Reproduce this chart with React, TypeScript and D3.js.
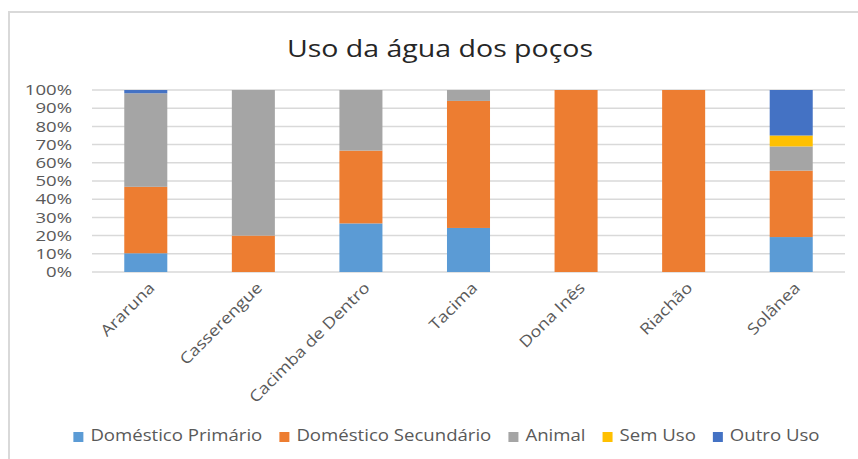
import React, { useEffect, useRef } from "react";
import * as d3 from "d3";

const categories = ["Araruna", "Casserengue", "Cacimba de Dentro", "Tacima", "Dona Inês", "Riachão", "Solânea"];
const seriesNames = ["Doméstico Primário", "Doméstico Secundário", "Animal", "Sem Uso", "Outro Uso"];
const domesticoPrimario = [10.3, 0, 26.7, 24.2, 0, 0, 19.2];
const domesticoSecundario = [36.5, 20, 40, 69.8, 100, 100, 36.5];
const animal = [51.4, 80, 33.3, 6, 0, 0, 13.3];
const semUso = [0, 0, 0, 0, 0, 0, 6.0];
const outroUso = [1.8, 0, 0, 0, 0, 0, 25.0];
const yTicks = [0, 10, 20, 30, 40, 50, 60, 70, 80, 90, 100];
const colors = ["#5B9BD5", "#ED7D31", "#A5A5A5", "#FFC000", "#4472C4"];
const title = "Uso da água dos poços";

const W = 858;
const H = 459;
const FONT = "'Open Sans', sans-serif";
const SX = 1.2;

export default function App() {
  const ref = useRef<SVGSVGElement>(null);

  useEffect(() => {
    const svg = d3.select(ref.current);
    svg.selectAll("*").remove();

    const seriesValues = [domesticoPrimario, domesticoSecundario, animal, semUso, outroUso];
    const rows = categories.map((c, i) => {
      const r: any = { cat: c };
      seriesNames.forEach((s, j) => (r[s] = seriesValues[j][i]));
      return r;
    });
    const stacked = d3.stack().keys(seriesNames)(rows);

    const left = 92, right = 845, top = 90, bottom = 272;
    const x = d3.scaleBand().domain(categories).range([left, right]).paddingInner(0.6).paddingOuter(0.3);
    const y = d3.scaleLinear().domain([0, 100]).range([bottom, top]);

    // border
    svg.append("rect").attr("x", 9).attr("y", 12).attr("width", W + 10).attr("height", H + 10)
      .attr("fill", "white").attr("stroke", "#D9D9D9").attr("stroke-width", 2);

    // title
    svg.append("text").attr("transform", `translate(440,57) scale(1.24,1)`)
      .attr("text-anchor", "middle").attr("font-family", FONT).attr("font-size", 23)
      .attr("fill", "#262626").text(title);

    // gridlines
    svg.append("g").selectAll("line").data(yTicks).join("line")
      .attr("x1", left).attr("x2", right)
      .attr("y1", (d) => y(d)).attr("y2", (d) => y(d))
      .attr("stroke", "#D9D9D9").attr("stroke-width", 1.5);

    // y labels
    svg.append("g").selectAll("text").data(yTicks).join("text")
      .attr("transform", (d) => `translate(72,${y(d)}) scale(1.28,1)`)
      .attr("dy", "0.36em").attr("text-anchor", "end")
      .attr("font-family", FONT).attr("font-size", 14.5).attr("fill", "#595959")
      .text((d) => `${d}%`);

    // bars
    svg.append("g").selectAll("g").data(stacked).join("g")
      .attr("fill", (_d, i) => colors[i])
      .selectAll("rect").data((d) => d).join("rect")
      .attr("x", (d: any) => x(d.data.cat)!)
      .attr("width", x.bandwidth())
      .attr("y", (d) => y(d[1]))
      .attr("height", (d) => Math.max(0, y(d[0]) - y(d[1])));

    // category labels
    svg.append("g").selectAll("text").data(categories).join("text")
      .attr("transform", (d) => `translate(${x(d)! + x.bandwidth() / 2 + 2},281) rotate(-45) scale(1.17,1)`)
      .attr("dy", "0.71em").attr("text-anchor", "end")
      .attr("font-family", FONT).attr("font-size", 15.5).attr("fill", "#595959")
      .text((d) => d);

    // legend
    const lg = svg.append("g");
    const items = lg.selectAll("g").data(seriesNames).join("g");
    items.append("rect").attr("width", 10).attr("height", 10).attr("y", 432)
      .attr("fill", (_d, i) => colors[i]);
    const texts = items.append("text")
      .attr("font-family", FONT).attr("font-size", 15.5).attr("fill", "#595959")
      .text((d) => d);
    const widths: number[] = [];
    texts.each(function () {
      widths.push((this as SVGTextElement).getComputedTextLength() * SX);
    });
    const sq = 10, gap = 7, spacing = 17;
    const total = widths.reduce((a, w) => a + sq + gap + w, 0) + spacing * (widths.length - 1);
    let cx = 446.5 - total / 2;
    items.each(function (_d, i) {
      const g = d3.select(this);
      g.select("rect").attr("x", cx);
      g.select("text").attr("transform", `translate(${cx + sq + gap},441) scale(${SX},1)`);
      cx += sq + gap + widths[i] + spacing;
    });
  }, []);

  return (
    <svg ref={ref} width={W} height={H} style={{ position: "absolute", left: 0, top: 0, background: "white" }} />
  );
}
